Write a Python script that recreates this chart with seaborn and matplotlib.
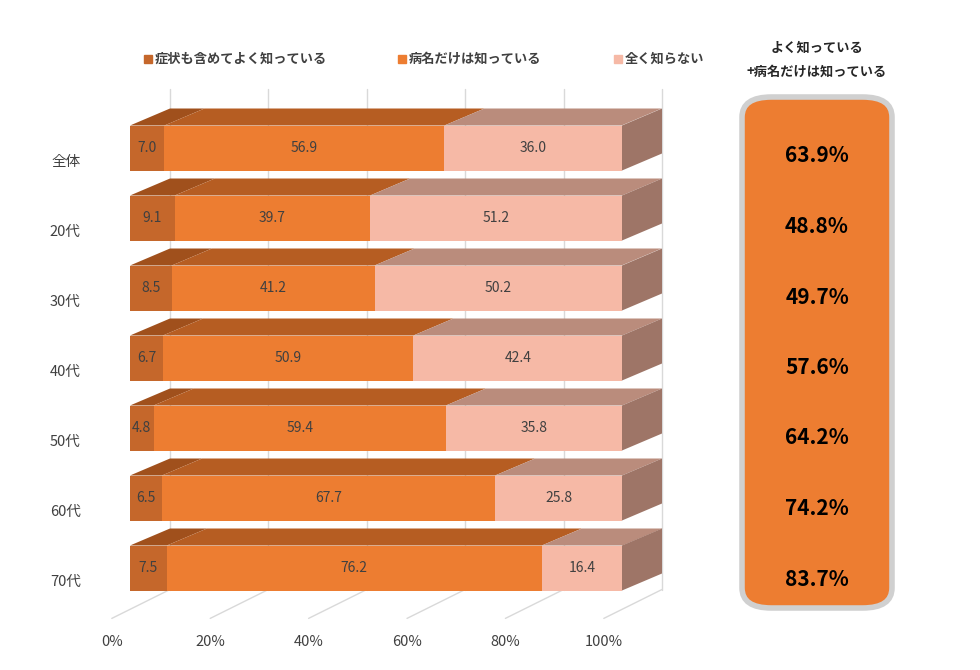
import matplotlib
matplotlib.use("Agg")
import matplotlib.pyplot as plt
from matplotlib.patches import Polygon, FancyBboxPatch, Rectangle
import seaborn as sns
import numpy as np

sns.set_theme(style="white")
plt.rcParams["font.family"] = "Noto Sans CJK JP"

groups = ["全体", "20代", "30代", "40代", "50代", "60代", "70代"]
know_well = [7.0, 9.1, 8.5, 6.7, 4.8, 6.5, 7.5]
name_only = [56.9, 39.7, 41.2, 50.9, 59.4, 67.7, 76.2]
unknown = [36.0, 51.2, 50.2, 42.4, 35.8, 25.8, 16.4]
combined = [63.9, 48.8, 49.7, 57.6, 64.2, 74.2, 83.7]
series_names = ["症状も含めてよく知っている", "病名だけは知っている", "全く知らない"]

front = ["#C5672B", "#ED7D31", "#F6B9A6"]
top = ["#A0501C", "#B65D22", "#BA8C7C"]
side = "#9E7567"

W, H = 980, 670
fig = plt.figure(figsize=(W / 100, H / 100), dpi=100)
# axes: x 0..100 -> px 130..622, rows centred 148..568
ax = fig.add_axes([130 / W, 1 - 603 / H, 492 / W, 490 / H])
ax.set_xlim(0, 100)
ax.set_ylim(6.5, -0.5)
ax.axis("off")

dx = 40 / 4.92   # depth offset in %
dy = 17 / 70     # depth offset in rows
bh = 45 / 70

# back grid lines
for p in range(0, 101, 20):
    ax.plot([p + dx, p + dx], [-0.5 - dy - 0.1, 6.5 - dy + 0.05], color="#D9D9D9", lw=1, clip_on=False, zorder=0)
    ax.plot([p + dx, p - 3.7], [6.5 - dy + 0.05, 6.5 + 0.22], color="#D9D9D9", lw=1, clip_on=False, zorder=0)

y = np.arange(len(groups))
data = np.array([know_well, name_only, unknown])
lefts = np.vstack([np.zeros(len(groups)), np.cumsum(data, axis=0)[:-1]])
for s in range(3):
    ax.barh(y, data[s], left=lefts[s], height=bh, color=front[s], linewidth=0, zorder=3)
    for i in range(len(groups)):
        l, w = lefts[s][i], data[s][i]
        yt = i - bh / 2
        ax.add_patch(Polygon([[l, yt], [l + w, yt], [l + w + dx, yt - dy], [l + dx, yt - dy]],
                             closed=True, color=top[s], lw=0, zorder=2, clip_on=False))
        ax.text(l + w / 2, i, f"{w:.1f}", ha="center", va="center", fontsize=10, color="#404040", zorder=5)
for i in range(len(groups)):
    yt, yb = i - bh / 2, i + bh / 2
    ax.add_patch(Polygon([[100, yt], [100 + dx, yt - dy], [100 + dx, yb - dy], [100, yb]],
                         closed=True, color=side, lw=0, zorder=2, clip_on=False))
    ax.text(-10, i + 0.2, groups[i], ha="right", va="center", fontsize=10.5, color="#404040")

for p in range(0, 101, 20):
    ax.text(p - 3.7, 6.5 + 0.55, f"{p}%", ha="center", va="center", fontsize=10.5, color="#404040")

# legend
for x0, name, c in zip([144, 398, 614], series_names, front):
    fig.patches.append(Rectangle((x0 / W, 1 - 63 / H), 8 / W, 8 / H, color=c, transform=fig.transFigure))
    fig.text((x0 + 11) / W, 1 - 59 / H, name, fontsize=9.5, fontweight="bold", color="#404040", va="center")

# right panel
fig.text(817 / W, 1 - 48 / H, "よく知っている", ha="center", va="center", fontsize=9.5, fontweight="bold", color="#262626")
fig.text(817 / W, 1 - 72 / H, "+病名だけは知っている", ha="center", va="center", fontsize=9.5, fontweight="bold", color="#262626")
fig.patches.append(FancyBboxPatch((742 / W, 1 - 608 / H), 150 / W, 511 / H,
                                  boxstyle="round,pad=0,rounding_size=0.03", transform=fig.transFigure,
                                  facecolor="#ED7D31", edgecolor="#D0D0D0", lw=4))
for i, v in enumerate(combined):
    fig.text(817 / W, 1 - (156 + 70.5 * i) / H, f"{v:.1f}%", ha="center", va="center",
             fontsize=15, fontweight="bold", color="black")

fig.savefig("out.png", dpi=100)
